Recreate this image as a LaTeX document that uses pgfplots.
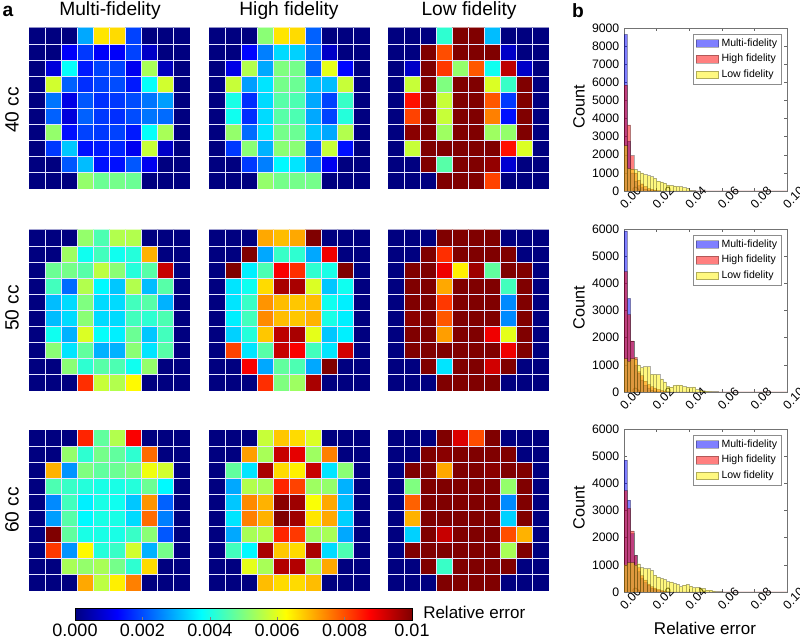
\documentclass[border=0pt]{standalone}
\usepackage{fontspec}
\setmainfont{Liberation Sans}
\usepackage{pgfplots}
\usepackage{pgfplotstable}
\pgfplotsset{compat=1.18}
% heat maps: one value per cell, row by row from the top, in units of 0.001
\pgfplotstableread[row sep=\\]{v\\
0\\0\\0\\2.9\\6.5\\6.6\\1.9\\0\\0\\0\\
0\\0\\1.2\\1.8\\1.2\\1.2\\1.9\\0.7\\0\\0\\
0\\0.9\\3.8\\1.5\\1.9\\1.9\\1.1\\5.4\\0.6\\0\\
0\\5.8\\2.2\\1.7\\1.9\\2.0\\1.5\\3.8\\5.8\\0\\
0\\2.4\\1.0\\2.1\\1.7\\1.8\\2.0\\2.4\\2.8\\0\\
0\\2.2\\0.9\\2.2\\1.8\\1.7\\2.0\\2.4\\2.3\\0\\
0\\5.2\\1.4\\1.9\\1.8\\1.9\\1.5\\3.8\\5.4\\0\\
0\\1.8\\3.2\\1.4\\1.5\\1.6\\1.1\\5.7\\0.7\\0\\
0\\0\\2.1\\3.1\\1.4\\1.4\\2.1\\1.1\\0\\0\\
0\\0\\0\\5.2\\4.8\\4.9\\4.8\\0\\0\\0\\
}\tAA
\pgfplotstableread[row sep=\\]{v\\
0\\0\\0\\5.1\\6.5\\6.6\\2.2\\0\\0\\0\\
0\\0\\1.3\\2.5\\3.4\\3.3\\2.4\\0.7\\0\\0\\
0\\1.0\\5.5\\2.9\\5.0\\4.9\\2.2\\6.0\\1.3\\0\\
0\\5.7\\2.8\\3.5\\4.9\\4.8\\3.1\\3.1\\5.7\\0\\
0\\4.0\\1.7\\3.4\\4.6\\4.5\\2.9\\1.9\\4.3\\0\\
0\\3.9\\1.7\\3.4\\4.6\\4.5\\2.9\\1.9\\4.1\\0\\
0\\5.2\\2.3\\3.5\\4.9\\4.8\\3.2\\2.9\\5.5\\0\\
0\\1.8\\5.1\\3.0\\5.1\\5.1\\2.2\\5.7\\1.4\\0\\
0\\0\\1.8\\2.5\\3.7\\3.5\\2.4\\1.1\\0\\0\\
0\\0\\0\\5.2\\4.9\\4.9\\4.9\\0\\0\\0\\
}\tAB
\pgfplotstableread[row sep=\\]{v\\
0\\0\\0\\4.2\\10\\10\\3.1\\0\\0\\0\\
0\\0\\10\\8.0\\10\\10\\10\\0.7\\0\\0\\
0\\0.7\\10\\8.2\\5.2\\7.9\\3.9\\9.4\\0.7\\0\\
0\\5.7\\10\\5.0\\10\\10\\5.9\\4.3\\10\\0\\
0\\8.6\\10\\5.7\\10\\10\\7.9\\1.8\\10\\0\\
0\\8.1\\10\\5.7\\10\\10\\7.5\\1.4\\10\\0\\
0\\9.9\\10\\5.3\\10\\10\\5.3\\5.2\\10\\0\\
0\\5.7\\10\\10\\10\\10\\10\\8.6\\5.9\\0\\
0\\0\\10\\4.6\\10\\10\\9.8\\0.8\\0\\0\\
0\\0\\0\\10\\10\\10\\8.1\\0\\0\\0\\
}\tAC
\pgfplotstableread[row sep=\\]{v\\
0\\0\\0\\5.2\\4.5\\5.5\\5.5\\0\\0\\0\\
0\\0\\5.3\\3.9\\4.4\\3.9\\4.1\\7.0\\0\\0\\
0\\4.8\\4.9\\4.6\\5.6\\5.1\\4.1\\4.6\\9.3\\0\\
0\\4.4\\2.3\\5.5\\3.7\\3.2\\5.5\\3.1\\4.6\\0\\
0\\3.1\\3.4\\5.0\\3.4\\3.4\\4.4\\4.6\\3.0\\0\\
0\\3.1\\3.4\\5.1\\3.4\\3.4\\4.4\\4.2\\4.5\\0\\
0\\3.9\\3.0\\5.9\\3.8\\3.6\\4.8\\3.2\\4.4\\0\\
0\\5.1\\3.5\\4.7\\3.0\\3.0\\5.1\\3.5\\4.6\\0\\
0\\0\\5.1\\4.2\\4.6\\4.5\\3.9\\5.2\\0\\0\\
0\\0\\0\\8.3\\5.7\\5.5\\6.3\\0\\0\\0\\
}\tBA
\pgfplotstableread[row sep=\\]{v\\
0\\0\\0\\7.1\\6.9\\7.1\\10\\0\\0\\0\\
0\\0\\10\\2.9\\4.3\\4.2\\2.9\\8.9\\0\\0\\
0\\10\\3.6\\4.5\\8.8\\8.3\\4.2\\4.0\\10\\0\\
0\\3.5\\3.9\\6.6\\9.6\\9.6\\5.9\\3.2\\3.9\\0\\
0\\3.5\\4.3\\7.3\\6.9\\6.8\\6.9\\3.9\\3.6\\0\\
0\\3.6\\4.4\\7.4\\6.9\\6.8\\7.0\\4.0\\3.6\\0\\
0\\3.3\\4.1\\6.8\\9.4\\9.6\\6.0\\3.2\\3.6\\0\\
0\\8.1\\3.5\\4.6\\9.3\\8.8\\4.4\\3.5\\9.2\\0\\
0\\0\\8.8\\2.9\\4.7\\4.5\\2.9\\10\\0\\0\\
0\\0\\0\\8.3\\5.0\\5.3\\9.6\\0\\0\\0\\
}\tBB
\pgfplotstableread[row sep=\\]{v\\
0\\0\\0\\10\\10\\10\\10\\0\\0\\0\\
0\\0\\10\\8.3\\10\\10\\10\\10\\0\\0\\
0\\10\\10\\8.9\\6.4\\9.7\\4.7\\10\\10\\0\\
0\\10\\10\\7.1\\10\\10\\10\\4.4\\10\\0\\
0\\10\\10\\8.2\\10\\10\\10\\2.6\\10\\0\\
0\\9.9\\10\\7.9\\10\\10\\10\\2.6\\10\\0\\
0\\10\\10\\7.2\\10\\10\\8.9\\6.0\\10\\0\\
0\\10\\10\\10\\10\\10\\10\\8.9\\10\\0\\
0\\0\\10\\3.5\\10\\10\\9.2\\10\\0\\0\\
0\\0\\0\\10\\10\\10\\10\\0\\0\\0\\
}\tBC
\pgfplotstableread[row sep=\\]{v\\
0\\0\\0\\8.4\\4.7\\5.5\\8.8\\0\\0\\0\\
0\\0\\5.2\\4.2\\4.9\\4.7\\4.2\\7.7\\0\\0\\
0\\7.0\\2.7\\5.0\\4.7\\4.8\\5.0\\6.1\\5.8\\0\\
0\\4.5\\4.3\\4.1\\4.0\\4.0\\4.1\\4.8\\3.7\\0\\
0\\2.6\\4.4\\3.6\\4.0\\3.9\\3.2\\7.3\\2.2\\0\\
0\\2.8\\4.6\\3.7\\4.0\\4.0\\3.4\\7.7\\2.5\\0\\
0\\10\\4.7\\4.0\\4.0\\4.0\\4.3\\5.1\\2.1\\0\\
0\\8.2\\2.7\\6.3\\4.1\\4.3\\5.8\\3.0\\4.9\\0\\
0\\0\\5.4\\5.2\\5.4\\4.9\\4.2\\6.6\\0\\0\\
0\\0\\0\\7.1\\5.6\\6.4\\7.5\\0\\0\\0\\
}\tCA
\pgfplotstableread[row sep=\\]{v\\
0\\0\\0\\5.7\\6.8\\6.6\\5.9\\0\\0\\0\\
0\\0\\7.2\\5.4\\9.3\\9.0\\5.3\\7.5\\0\\0\\
0\\4.7\\3.5\\9.6\\6.6\\6.4\\9.3\\3.5\\5.1\\0\\
0\\2.9\\5.5\\5.4\\8.4\\8.1\\5.3\\5.2\\3.0\\0\\
0\\3.2\\7.4\\7.0\\9.9\\9.7\\6.2\\7.1\\3.1\\0\\
0\\3.5\\7.5\\7.0\\10\\9.7\\6.5\\7.1\\3.3\\0\\
0\\2.9\\5.4\\5.5\\8.4\\8.2\\5.3\\5.4\\2.9\\0\\
0\\4.4\\3.7\\9.6\\6.8\\6.6\\9.6\\3.4\\4.5\\0\\
0\\0\\6.0\\5.4\\9.5\\9.5\\5.4\\7.1\\0\\0\\
0\\0\\0\\6.9\\6.6\\6.6\\6.9\\0\\0\\0\\
}\tCB
\pgfplotstableread[row sep=\\]{v\\
0\\0\\0\\10\\9.1\\8.0\\10\\0\\0\\0\\
0\\0\\10\\9.9\\10\\10\\10\\10\\0\\0\\
0\\10\\10\\7.1\\10\\10\\9.9\\10\\10\\0\\
0\\5.0\\10\\10\\10\\10\\10\\5.2\\10\\0\\
0\\7.8\\10\\10\\10\\10\\10\\2.6\\10\\0\\
0\\7.0\\10\\10\\10\\10\\10\\3.3\\10\\0\\
0\\3.3\\10\\9.3\\10\\10\\10\\8.0\\7.0\\0\\
0\\10\\10\\10\\10\\10\\10\\5.4\\10\\0\\
0\\0\\10\\4.3\\10\\10\\10\\10\\0\\0\\
0\\0\\0\\10\\10\\10\\10\\0\\0\\0\\
}\tCC
% histograms: left edge of each bin, counts of the three series
\pgfplotstableread{
x m h l
0.000 8650 5850 2500
0.002 2750 3650 1230
0.004 1000 1950 1220
0.006 550 1000 1200
0.008 300 600 1100
0.010 180 400 1000
0.012 100 250 900
0.014 60 150 850
0.016 30 100 800
0.018 15 60 700
0.020 5 30 540
0.022 0 10 500
0.024 0 5 440
0.026 0 0 340
0.028 0 0 310
0.030 0 0 280
0.032 0 0 260
0.034 0 0 240
0.036 0 0 180
0.038 0 0 140
0.040 0 0 30
0.042 0 0 15
0.044 0 0 8
0.046 0 0 4
0.048 0 0 2
0.050 0 0 0
0.100 0 0 0
}\hA
\pgfplotstableread{
x m h l
0.000 5930 4430 1230
0.002 3450 2850 1130
0.004 1870 1880 1230
0.006 1000 1270 1220
0.008 700 750 1000
0.010 450 600 900
0.012 250 400 930
0.014 150 280 930
0.016 80 200 650
0.018 40 150 650
0.020 15 100 640
0.022 5 60 480
0.024 0 30 370
0.026 0 10 210
0.028 0 5 180
0.030 0 0 240
0.032 0 0 260
0.034 0 0 250
0.036 0 0 200
0.038 0 0 180
0.040 0 0 170
0.042 0 0 190
0.044 0 0 90
0.046 0 0 60
0.048 0 0 40
0.050 0 0 30
0.052 0 0 25
0.054 0 0 10
0.056 0 0 10
0.058 0 0 5
0.060 0 0 8
0.062 0 0 8
0.064 0 0 5
0.066 0 0 5
0.068 0 0 0
0.084 0 0 0
0.086 0 0 6
0.088 0 0 0
0.100 0 0 0
}\hB
\pgfplotstableread{
x m h l
0.000 4850 3730 1000
0.002 3380 3080 1080
0.004 2150 2250 1080
0.006 1350 1350 1000
0.008 750 900 1040
0.010 500 600 900
0.012 350 450 860
0.014 250 300 860
0.016 150 200 800
0.018 100 150 620
0.020 50 100 560
0.022 30 60 500
0.024 10 30 460
0.026 5 15 380
0.028 0 5 370
0.030 0 0 320
0.032 0 0 280
0.034 0 0 200
0.036 0 0 250
0.038 0 0 280
0.040 0 0 220
0.042 0 0 160
0.044 0 0 170
0.046 0 0 150
0.048 0 0 130
0.050 0 0 70
0.052 0 0 70
0.054 0 0 40
0.056 0 0 10
0.058 0 0 10
0.060 0 0 6
0.062 0 0 4
0.064 0 0 2
0.066 0 0 0
0.100 0 0 0
}\hC
\pgfplotsset{
  heat/.style={scale only axis, width=120.75pt, height=120.75pt,
    anchor=south west, xmin=-0.5, xmax=9.5, ymin=-0.5, ymax=9.5, y dir=reverse,
    colormap/jet, point meta min=0, point meta max=10,
    xtick={0.5,1.5,...,8.5}, ytick={0.5,1.5,...,8.5},
    xticklabels={}, yticklabels={},
    major tick length=0pt, grid=major,
    grid style={white!90!blue, line width=0.6pt},
    axis on top, axis line style={draw=none}},
  hist/.style={scale only axis, width=122.25pt, height=122.25pt,
    anchor=south west, xmin=0, xmax=0.1, ymin=0,
    xtick={0,0.02,0.04,0.06,0.08,0.1}, scaled x ticks=false, scaled y ticks=false,
    tick align=inside, major tick length=2.2pt,
    tick style={black!60, line width=0.4pt},
    axis line style={black!55, line width=0.6pt},
    tick label style={font=\fontsize{9.2}{10}\selectfont},
    xticklabel style={rotate=45, anchor=center, yshift=-7pt,
      /pgf/number format/.cd, assume math mode=true, fixed, fixed zerofill, precision=2},
    yticklabel style={/pgf/number format/.cd, assume math mode=true, 1000 sep={}},
    legend cell align=left,
    legend style={at={(0.97,0.965)}, anchor=north east, draw=black!45, line width=0.5pt,
      font=\fontsize{7.9}{9}\selectfont, inner sep=1.5pt, row sep=0.5pt}},
  bm/.style={ybar interval, area legend, fill=blue, fill opacity=0.5, draw=black, draw opacity=0.3, line width=0.35pt},
  br/.style={ybar interval, area legend, fill=red, fill opacity=0.5, draw=black, draw opacity=0.3, line width=0.35pt},
  by/.style={ybar interval, area legend, fill=yellow, fill opacity=0.5, draw=black, draw opacity=0.3, line width=0.35pt},
}
\newcommand{\heatmap}[3]{%
  \begin{axis}[heat, at={(#1,#2)}]
    \addplot[matrix plot*, mesh/cols=10, point meta=explicit]
      table[x index=0, y index=0, x expr={mod(\coordindex,10)}, y expr={floor(\coordindex/10)}, meta=v] {#3};
  \end{axis}}
\newcommand{\histo}[4]{%
  \begin{axis}[hist, at={(468pt,#1)}, ymax=#2, ytick={#3}]
    \addplot[bm] table[x=x, y=m] {#4};
    \addplot[br] table[x=x, y=h] {#4};
    \addplot[by] table[x=x, y=l] {#4};
    \legend{Multi-fidelity, High fidelity, Low fidelity}
  \end{axis}}
\begin{document}
\begin{tikzpicture}
\useasboundingbox (0,0) rectangle (600pt,480.75pt);
\heatmap{21.75pt}{339pt}{\tAA}
\heatmap{156.75pt}{339pt}{\tAB}
\heatmap{291pt}{339pt}{\tAC}
\heatmap{21.75pt}{187.5pt}{\tBA}
\heatmap{156.75pt}{187.5pt}{\tBB}
\heatmap{291pt}{187.5pt}{\tBC}
\heatmap{21.75pt}{37.5pt}{\tCA}
\heatmap{156.75pt}{37.5pt}{\tCB}
\heatmap{291pt}{37.5pt}{\tCC}
\histo{337.5pt}{9000}{0,1000,...,9000}{\hA}
\histo{186.75pt}{6000}{0,1000,...,6000}{\hB}
\histo{36.75pt}{6000}{0,1000,...,6000}{\hC}
\begin{axis}[scale only axis, width=252.75pt, height=9pt, anchor=south west, at={(56.25pt,15.75pt)},
    xmin=0, xmax=0.01, ymin=0, ymax=1, ymajorticks=false, colormap/jet,
    point meta min=0, point meta max=10,
    xtick={0,0.002,0.004,0.006,0.008,0.01},
    xticklabels={0.000,0.002,0.004,0.006,0.008,0.01},
    tick align=inside, major tick length=2pt, xtick pos=bottom, axis on top,
    axis line style={line width=0.5pt},
    xticklabel style={font=\fontsize{13.5}{14}\selectfont, yshift=0.5pt}]
  \addplot[surf, shader=interp, mesh/cols=2, point meta=explicit] table[meta=v] {
x y v
0 0 0
0.01 0 10
0 1 0
0.01 1 10
};
\end{axis}
\def\tf{\fontsize{14.4}{16}\selectfont}
\node at (82.5pt,472.5pt) {\tf Multi-fidelity};
\node at (216.75pt,472.5pt) {\tf High fidelity};
\node at (351.75pt,472.5pt) {\tf Low fidelity};
\node[rotate=90] at (9pt,398.25pt) {\tf 40 cc};
\node[rotate=90] at (9pt,249.75pt) {\tf 50 cc};
\node[rotate=90] at (9pt,98.25pt) {\tf 60 cc};
\node at (6pt,472.5pt) {\tf\bfseries a};
\node at (433.5pt,472.5pt) {\tf\bfseries b};
\node[anchor=west, inner sep=0pt] at (317.25pt,21.75pt) {\fontsize{12.75}{14}\selectfont Relative error};
\node at (528.75pt,9.75pt) {\fontsize{12.75}{14}\selectfont Relative error};
\node[rotate=90] at (434.25pt,400.5pt) {\fontsize{12.2}{14}\selectfont Count};
\node[rotate=90] at (434.25pt,249.75pt) {\fontsize{12.2}{14}\selectfont Count};
\node[rotate=90] at (434.25pt,99.75pt) {\fontsize{12.2}{14}\selectfont Count};
\end{tikzpicture}
\end{document}
